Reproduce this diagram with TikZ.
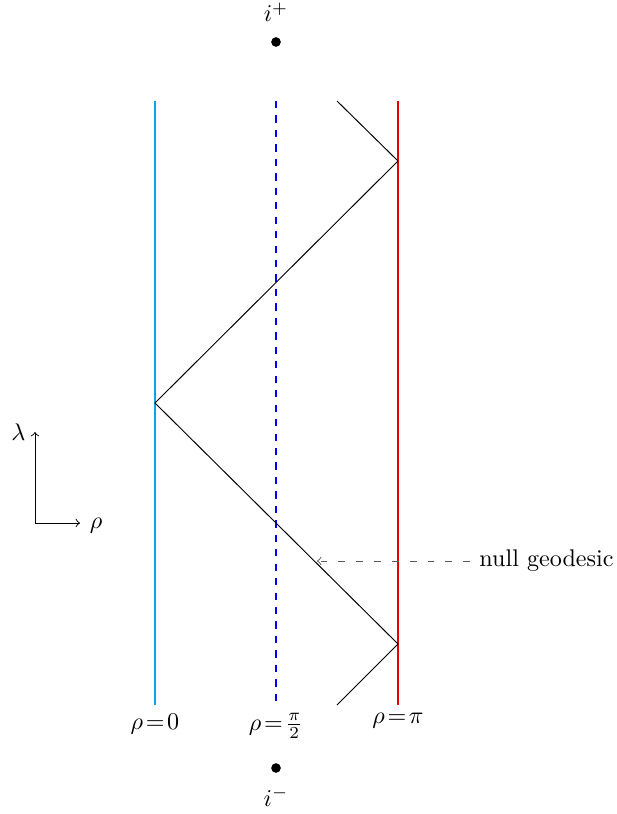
\documentclass[tikz,border=0pt]{standalone}
\definecolor{lineL}{RGB}{20,160,230}
\definecolor{lineM}{RGB}{0,0,255}
\definecolor{lineR}{RGB}{230,0,0}
\begin{document}
\begin{tikzpicture}[x=0.415pt,y=-0.415pt,
  bound/.style={line width=0.45pt},
  geo/.style={black},
  lbl/.style={anchor=north},
  dotmark/.style={circle,fill=black,inner sep=0pt,minimum size=4pt}]
\useasboundingbox (0,0) rectangle (616,814);
% boundaries
\coordinate (Lt) at (155,101); \coordinate (Lb) at (155,705);
\coordinate (Mt) at (276,101); \coordinate (Mb) at (276,705);
\coordinate (Rt) at (398,101); \coordinate (Rb) at (398,705);
\draw[bound,lineL] (Lt) -- (Lb);
\draw[bound,lineM,dashed] (Mt) -- (Mb);
\draw[bound,lineR] (Rt) -- (Rb);
% null geodesic
\coordinate (g0) at (337,101);
\coordinate (g1) at (398,161);
\coordinate (g2) at (155,403);
\coordinate (g3) at (398,644);
\coordinate (g4) at (337,705);
\draw[geo] (g0) -- (g1) -- (g2) -- (g3) -- (g4);
% labels
\node[lbl] (l0) at (Lb) {$\rho\!=\!0$};
\node[lbl] (l1) at (Mb) {$\rho\!=\!\frac{\pi}{2}$};
\node[lbl] (l2) at (Rb) {$\rho\!=\!\pi$};
% i+ and i-
\node[dotmark] (ip) at (276,42) {};
\node[anchor=base] (ipl) at (276,22) {$i^+$};
\node[dotmark] (im) at (276,768) {};
\node[anchor=base] (iml) at (276,806) {$i^-$};
% axes
\coordinate (O) at (35,523);
\coordinate (Ay) at (35,432);
\coordinate (Ax) at (80,523);
\draw[->] (O) -- (Ay);
\draw[->] (O) -- (Ax);
\node[anchor=base] (lam) at (18.5,440) {$\lambda$};
\node[anchor=base] (rho) at (96,528) {$\rho$};
% annotation
\node[anchor=base west,inner sep=0pt] (ng) at (479,566) {null geodesic};
\coordinate (ngt) at (317,561);
\draw[->,black!65,dash pattern=on 2.8pt off 4.6pt] (ng.west |- ngt) ++(-9,0) -- (ngt);
\end{tikzpicture}
\end{document}
